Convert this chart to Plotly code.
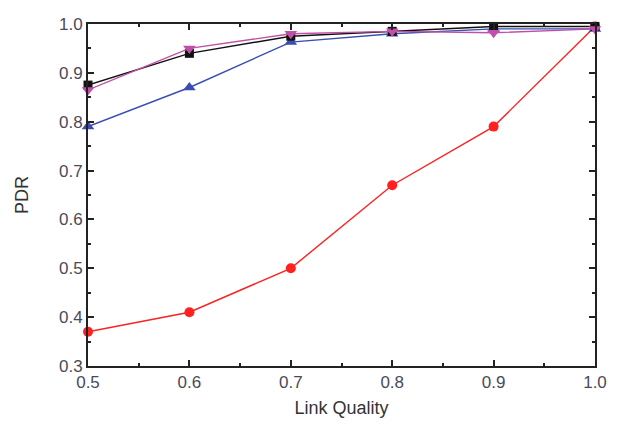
import plotly.graph_objects as go

link_quality = [0.5, 0.6, 0.7, 0.8, 0.9, 1.0]
pdr_red = [0.37, 0.41, 0.50, 0.67, 0.79, 0.995]
pdr_blue = [0.79, 0.87, 0.963, 0.98, 0.99, 0.99]
pdr_black = [0.875, 0.94, 0.975, 0.985, 0.995, 0.995]
pdr_magenta = [0.865, 0.95, 0.98, 0.985, 0.982, 0.99]

series = [
    (pdr_red, "#ff2020", "circle", 10),
    (pdr_blue, "#3a4db0", "triangle-up", 11),
    (pdr_black, "#111111", "square", 9),
    (pdr_magenta, "#c04fa8", "triangle-down", 11),
]

fig = go.Figure()
for ys, col, sym, sz in series:
    fig.add_trace(go.Scatter(
        x=link_quality, y=ys, mode="lines+markers",
        line=dict(color=col, width=1.4),
        marker=dict(symbol=sym, size=sz, color=col),
        cliponaxis=False, showlegend=False))

axis_common = dict(
    showline=True, linecolor="#222", linewidth=2, mirror="ticks",
    ticks="inside", ticklen=6, tickwidth=1.5, tickcolor="#222",
    showgrid=False, zeroline=False,
    tickfont=dict(family="Liberation Sans, Arial", size=17, color="#4a4a5a"),
)

fig.update_xaxes(range=[0.5, 1.0], dtick=0.1, tickformat=".1f",
                 minor=dict(dtick=0.05, ticks="inside", ticklen=3, tickcolor="#222"),
                 title=dict(text="Link Quality", font=dict(family="Liberation Sans, Arial", size=18, color="#333"), standoff=10),
                 **axis_common)
fig.update_yaxes(range=[0.3, 1.0], dtick=0.1, tickformat=".1f",
                 minor=dict(dtick=0.05, ticks="inside", ticklen=3, tickcolor="#222"),
                 title=dict(text="PDR", font=dict(family="Liberation Sans, Arial", size=18, color="#333"), standoff=26),
                 **axis_common)

fig.update_layout(width=619, height=427, margin=dict(l=88, r=19, t=24, b=61),
                  plot_bgcolor="white", paper_bgcolor="white")
fig.write_html("out.html")
